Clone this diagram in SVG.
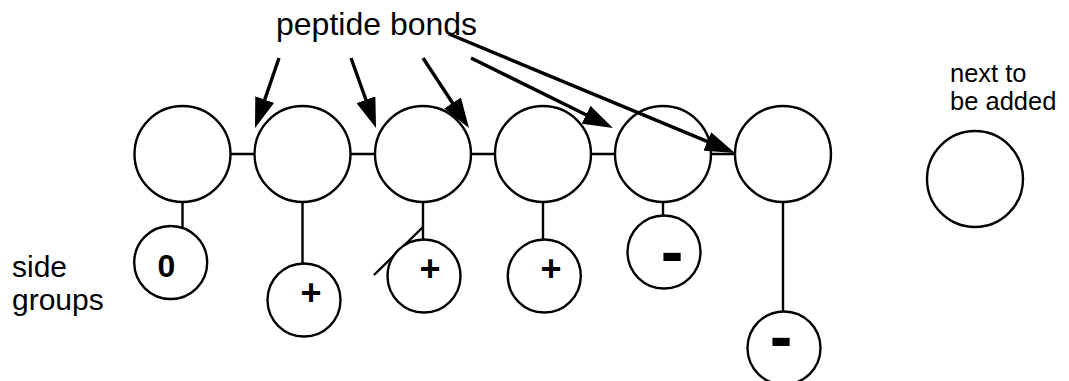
<svg xmlns="http://www.w3.org/2000/svg" width="1069" height="381" viewBox="0 0 1069 381">
<style>
.c{fill:#fff;stroke:#000;stroke-width:2.4}
.l{stroke:#000;stroke-width:2.4;fill:none}
.a{stroke:#000;stroke-width:3.4;fill:none;marker-end:url(#ah)}
.t{font-family:"Liberation Sans",Arial,sans-serif;fill:#000}
.s{font-family:"Liberation Sans",Arial,sans-serif;font-weight:bold;fill:#000;text-anchor:middle}
</style>
<defs>
<marker id="ah" markerUnits="userSpaceOnUse" viewBox="0 0 30 20" refX="18" refY="10" markerWidth="30" markerHeight="20" orient="auto">
<path d="M0,0 L30,10 L0,20 z" fill="#000"/>
</marker>
</defs>
<g id="connectors">
<line class="l" x1="182.5" y1="154" x2="783" y2="154"/>
<line class="l" x1="182.5" y1="202" x2="182.5" y2="227"/>
<line class="l" x1="302.5" y1="202" x2="302.5" y2="264"/>
<line class="l" x1="423" y1="202" x2="423" y2="240"/>
<line class="l" x1="374" y1="275" x2="423" y2="227"/>
<line class="l" x1="543" y1="202" x2="543" y2="240"/>
<line class="l" x1="663" y1="202" x2="663" y2="216"/>
<line class="l" x1="783" y1="202" x2="783" y2="312"/>
<line class="a" x1="279" y1="58" x2="258.9" y2="116.6"/>
<line class="a" x1="351" y1="58" x2="372" y2="116.7"/>
<line class="a" x1="423" y1="58" x2="462.4" y2="118"/>
<line class="a" x1="471" y1="58" x2="602.2" y2="122.7"/>
</g>
<g id="residue1"><circle class="c" cx="182.5" cy="154" r="48"/></g>
<g id="residue2"><circle class="c" cx="302.5" cy="154" r="48"/></g>
<g id="residue3"><circle class="c" cx="423" cy="154" r="48"/></g>
<g id="residue4"><circle class="c" cx="543" cy="154" r="48"/></g>
<g id="residue5"><circle class="c" cx="663" cy="154" r="48"/></g>
<g id="residue6"><circle class="c" cx="783" cy="154" r="48"/></g>
<g id="next"><circle class="c" cx="975" cy="179" r="48"/></g>
<g id="side1"><circle class="c" cx="170.7" cy="262.5" r="36.5"/><text class="s" x="166.5" y="276.5" font-size="32">0</text></g>
<g id="side2"><circle class="c" cx="304" cy="300" r="36.5"/><text class="s" x="311" y="305" font-size="36">+</text></g>
<g id="side3"><circle class="c" cx="424" cy="276" r="36.5"/><text class="s" x="430" y="281" font-size="36">+</text></g>
<g id="side4"><circle class="c" cx="544.3" cy="276" r="36.5"/><text class="s" x="551" y="281" font-size="36">+</text></g>
<g id="side5"><circle class="c" cx="664" cy="252" r="36.5"/><text class="s" x="672" y="275" font-size="68">-</text></g>
<g id="side6"><circle class="c" cx="784" cy="348" r="36.5"/><text class="s" x="781" y="360" font-size="68">-</text></g>
<g id="arrow5"><line class="a" x1="449" y1="34" x2="723.9" y2="148.4"/></g>
<g id="labels">
<text class="t" x="276" y="35" font-size="32">peptide bonds</text>
<text class="t" x="950" y="81.5" font-size="25.5">next to</text>
<text class="t" x="950" y="110" font-size="25.5">be added</text>
<text class="t" x="12" y="277" font-size="30">side</text>
<text class="t" x="12" y="310" font-size="30">groups</text>
</g>
</svg>
